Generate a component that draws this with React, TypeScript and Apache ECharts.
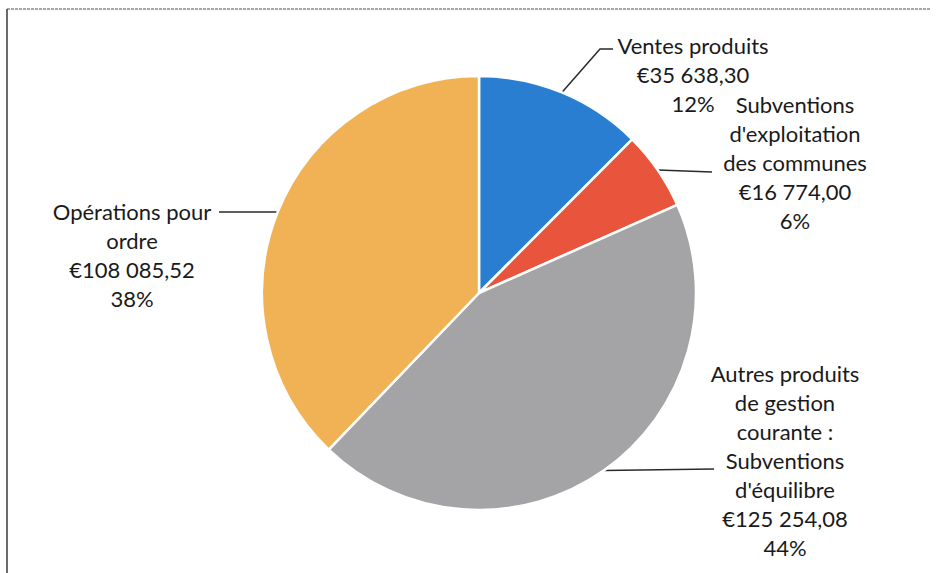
import React, { useEffect, useRef } from "react";
import * as echarts from "echarts";

const categories = [
  "Ventes produits",
  "Subventions\nd'exploitation\ndes communes",
  "Autres produits\nde gestion\ncourante :\nSubventions\nd'équilibre",
  "Opérations pour\nordre",
];
const values = [35638.3, 16774.0, 125254.08, 108085.52];
const colors = ["#2a7ed2", "#e8553c", "#a4a4a6", "#f1b256"];

// label layout (page coordinates)
const labelPos = [
  { x: 693, y: 74, line: [[600, 49], [613, 49]] },
  { x: 795, y: 162, line: [[712, 172]] },
  { x: 785, y: 460, line: [[714, 469]] },
  { x: 132, y: 255, line: [[219, 212]] },
];

function fmtEuro(v: number): string {
  const [i, d] = v.toFixed(2).split(".");
  const withSpaces = i.replace(/\B(?=(\d{3})+(?!\d))/g, " ");
  return "€" + withSpaces + "," + d;
}

export default function App() {
  const ref = useRef<HTMLDivElement>(null);
  useEffect(() => {
    if (!ref.current) return;
    const chart = echarts.init(ref.current, undefined, { renderer: "svg" });
    chart.setOption({
      animation: false,
      backgroundColor: "#ffffff",
      graphic: [
        {
          type: "line",
          shape: { x1: 7, y1: 9, x2: 930, y2: 9 },
          style: { stroke: "#8a8a8a", lineWidth: 1.5, lineDash: [3, 1] },
        },
        {
          type: "line",
          shape: { x1: 7, y1: 9, x2: 7, y2: 573 },
          style: { stroke: "#3a3a3a", lineWidth: 1.5 },
        },
      ],
      series: [
        {
          type: "pie",
          center: [479, 293],
          radius: 217,
          startAngle: 90,
          clockwise: true,
          silent: true,
          data: categories.map((name, i) => ({
            name,
            value: values[i],
            itemStyle: { color: colors[i] },
          })),
          itemStyle: { borderColor: "#ffffff", borderWidth: 2.5 },
          label: {
            show: true,
            position: "outside",
            fontFamily: "Lato",
            fontSize: 22,
            lineHeight: 29,
            color: "#1a1a1a",
            formatter: (p: any) =>
              p.name + "\n" + fmtEuro(p.value) + "\n" + Math.round(p.percent) + "%",
          },
          labelLine: {
            show: true,
            length: 20,
            length2: 20,
            lineStyle: { color: "#2a2a2a", width: 1.5 },
          },
          labelLayout: (params: any) => {
            const lp = labelPos[params.dataIndex];
            const start = params.labelLinePoints ? params.labelLinePoints[0] : null;
            const out: any = {
              x: lp.x,
              y: lp.y,
              align: "center",
              verticalAlign: "middle",
            };
            if (start) out.labelLinePoints = [start, ...lp.line];
            return out;
          },
        },
      ],
    });
    return () => chart.dispose();
  }, []);
  return (
    <div
      ref={ref}
      style={{ position: "fixed", left: 0, top: 0, width: 936, height: 573 }}
    />
  );
}
